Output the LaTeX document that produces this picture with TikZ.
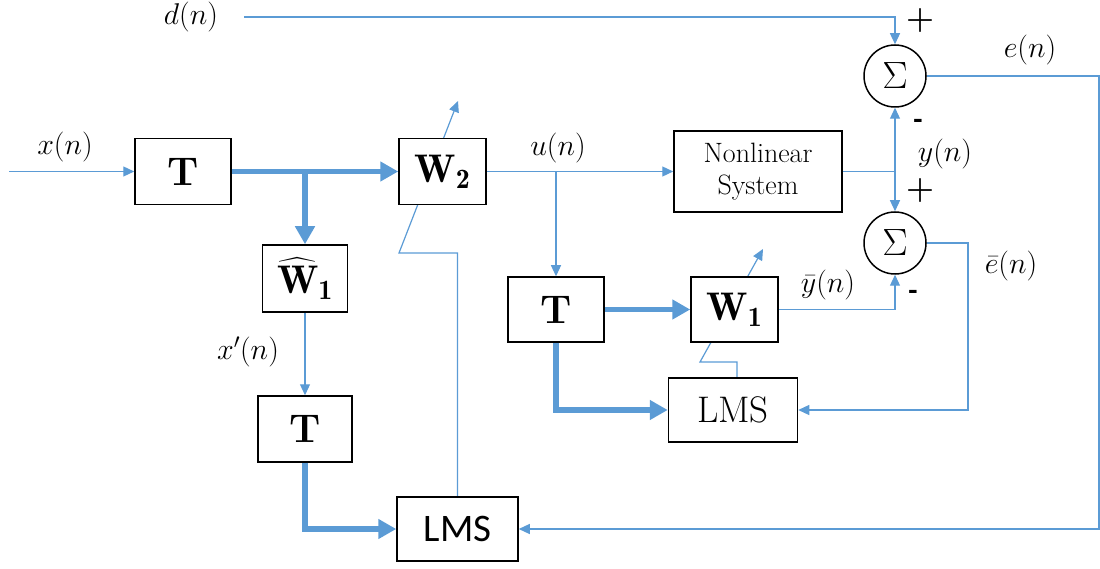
\RequirePackage{fix-cm}
\documentclass[tikz,border=0pt]{standalone}
\usepackage{amsmath}
\usepackage{fontspec}
\newfontfamily\calibri{Carlito}
\usetikzlibrary{arrows.meta,backgrounds}
\definecolor{lineblue}{HTML}{5B9BD5}
\begin{document}
\begin{tikzpicture}[x=1pt,y=-1pt,
  box/.style={draw=black,line width=1.5pt,fill=white,inner sep=0pt},
  sumnode/.style={circle,draw=black,line width=1.5pt,fill=white,minimum size=62pt,inner sep=0pt,font=\fontsize{38}{38}\selectfont},
  thinarr/.style={draw=lineblue,line width=1.2pt,-{Triangle[length=11pt,width=10pt]}},
  thickarr/.style={draw=lineblue,line width=5.5pt,-{Triangle[length=18pt,width=19pt]}},
  thinline/.style={draw=lineblue,line width=1.2pt},
  lbl/.style={inner sep=0pt,font=\fontsize{30}{30}\selectfont},
  sgn/.style={inner sep=0pt,font=\fontsize{32}{32}\selectfont\bfseries},
  minussign/.style={inner sep=0pt,font=\fontsize{30}{30}\selectfont\calibri\bfseries},
  bigsym/.style={font=\fontsize{40}{40}\selectfont\bfseries}
]
\useasboundingbox (0,0) rectangle (1100,569);

% blocks
\node[box,minimum width=96pt,minimum height=66pt,bigsym] (T1) at (183,171.5) {T};
\node[box,minimum width=87pt,minimum height=66pt,bigsym] (W2) at (442.5,171.5) {$\mathbf{W}_{\mathbf{2}}$};
\node[box,minimum width=85pt,minimum height=67pt,bigsym] (Wh1) at (305,278.5) {$\widehat{\mathbf{W}}_{\mathbf{1}}$};
\node[box,minimum width=94pt,minimum height=66pt,bigsym] (T2) at (305,429) {T};
\node[box,minimum width=121pt,minimum height=64pt,font=\fontsize{39}{39}\selectfont\calibri] (LMSa) at (457.5,529) {LMS};
\node[box,minimum width=168pt,minimum height=81pt,align=center,font=\fontsize{28}{32}\selectfont] (NL) at (758,171.5) {Nonlinear\\System};
\node[sumnode] (S1) at (895,76) {$\Sigma$};
\node[sumnode] (S2) at (895,243) {$\Sigma$};
\node[box,minimum width=96pt,minimum height=65pt,bigsym] (T3) at (556,309.5) {T};
\node[box,minimum width=87pt,minimum height=65pt,bigsym] (W1) at (734.5,309.5) {$\mathbf{W}_{\mathbf{1}}$};
\node[box,minimum width=129pt,minimum height=64pt,font=\fontsize{37}{37}\selectfont] (LMSb) at (733,410) {LMS};

% coordinates
\coordinate (xin) at (9,171.5);
\coordinate (br1) at (305,171.5);
\coordinate (din) at (244,17);
\coordinate (ub) at (556,171.5);
\coordinate (j) at (895,171.5);
\coordinate (eR) at (1099,76);
\coordinate (ebR) at (968,243);
\coordinate (a2s) at (399,253);
\coordinate (a2t) at (458,101);
\coordinate (a1s) at (700,362);
\coordinate (a1t) at (763,249);

% adjustment arrows (behind the boxes)
\begin{scope}[on background layer]
\draw[thinarr] (LMSa.north) |- (a2s) -- (a2t);
\draw[thinarr] ([xshift=4pt]LMSb.north) |- (a1s) -- (a1t);
\end{scope}

% connectors
\draw[thinarr] (xin) -- (T1.west);
\draw[thickarr] (T1.east) -- (W2.west);
\draw[thickarr] (br1) -- (Wh1.north);
\draw[thinarr] (Wh1.south) -- (T2.north);
\draw[thickarr] (T2.south) |- (LMSa.west);
\draw[thinarr] (din) -| (S1.north);
\draw[thinarr] (W2.east) -- (NL.west);
\draw[thinarr] (ub) -- (T3.north);
\draw[thinline] (NL.east) -- (j);
\draw[thinarr] (j) -- (S1.south);
\draw[thinarr] (j) -- (S2.north);
\draw[thinarr] (S1.east) -- (eR) |- (LMSa.east);
\draw[thinarr] (S2.east) -- (ebR) |- (LMSb.east);
\draw[thickarr] (T3.east) -- (W1.west);
\draw[thickarr] (T3.south) |- (LMSb.west);
\draw[thinarr] (W1.east) -| (S2.south);

% labels
\node[lbl] (lx) at (65,147) {$x(n)$};
\node[lbl] (ld) at (191,17) {$d(n)$};
\node[lbl] (lu) at (558,148) {$u(n)$};
\node[lbl] (le) at (1030,50) {$e(n)$};
\node[lbl] (ly) at (945,154) {$y(n)$};
\node[lbl] (lyb) at (828,285) {$\bar{y}(n)$};
\node[lbl] (leb) at (1011,266) {$\bar{e}(n)$};
\node[lbl] (lxp) at (248,352) {$x'(n)$};

% signs
\node[sgn] (p1) at (920,21) {+};
\node[minussign] (m1) at (918,124) {-};
\node[sgn] (p2) at (920,191) {+};
\node[minussign] (m2) at (913,295) {-};
\end{tikzpicture}
\end{document}
